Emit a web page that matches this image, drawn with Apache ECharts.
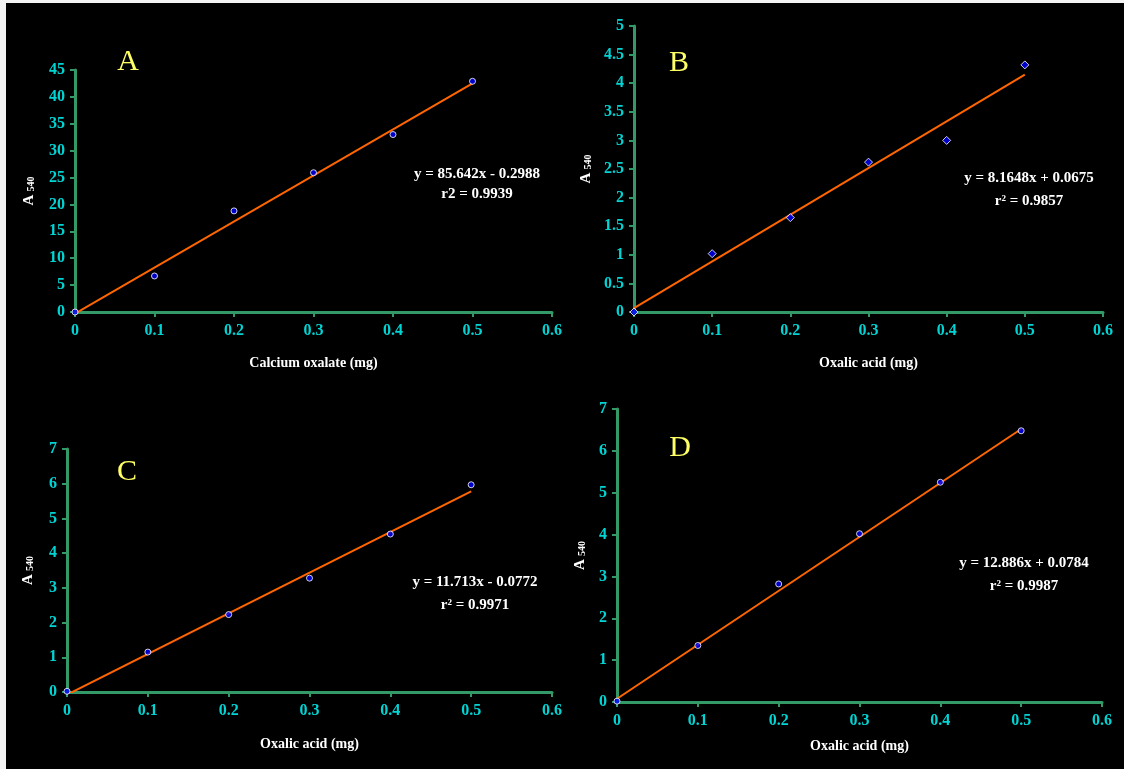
<!DOCTYPE html>
<html>
<head>
<meta charset="utf-8">
<script src="https://cdn.jsdelivr.net/npm/echarts@6/dist/echarts.min.js"></script>
<style>
  html, body { margin: 0; padding: 0; background: #000; }
  #chart { width: 1124px; height: 769px; }
</style>
</head>
<body>
<div id="chart"></div>
<script>
// Amount of standard (mg) on every panel's x axis
const doseMg = [0, 0.1, 0.2, 0.3, 0.4, 0.5];

// Absorbance at 540 nm for each panel
const absA = [0, 6.7, 18.8, 25.9, 33.0, 42.9];
const absB = [0, 1.02, 1.65, 2.62, 3.0, 4.32];
const absC = [0.02, 1.15, 2.23, 3.28, 4.55, 5.97];
const absD = [0.02, 1.35, 2.82, 4.02, 5.25, 6.48];

// Linear fits printed on each panel
const fitSlope = [85.642, 8.1648, 11.713, 12.886];
const fitIntercept = [-0.2988, 0.0675, -0.0772, 0.0784];
const fitEquation = ['y = 85.642x - 0.2988', 'y = 8.1648x + 0.0675', 'y = 11.713x - 0.0772', 'y = 12.886x + 0.0784'];
const fitR2 = ['r2 = 0.9939', 'r\u00B2 = 0.9857', 'r\u00B2 = 0.9971', 'r\u00B2 = 0.9987'];

const panelLetters = ['A', 'B', 'C', 'D'];
const xTitles = ['Calcium oxalate (mg)', 'Oxalic acid (mg)', 'Oxalic acid (mg)', 'Oxalic acid (mg)'];
const yMax = [45, 5, 7, 7];
const yStep = [5, 0.5, 1, 1];

const SERIF = "'Liberation Serif', 'Times New Roman', serif";
const AXIS_GREEN = '#339966';
const TICK_CYAN = '#00d4d4';
const FIT_ORANGE = '#ff6600';

// Panel layout (pixels)
const grids = [
  { left: 75,  top: 70,  width: 477, height: 242 },
  { left: 634, top: 26,  width: 469, height: 286 },
  { left: 67,  top: 449, width: 485, height: 243 },
  { left: 617, top: 409, width: 485, height: 293 }
];
const yNameGap = [38, 40, 31, 29];
const xNameGap = [44, 44, 45, 37];
const letterPos = [[128, 62], [679, 63], [127, 472], [680, 448]];
const eqPos = [[477, 174, 194], [1029, 178, 201], [475, 582, 605], [1024, 563, 586]];
const markerShape = ['circle', 'diamond', 'circle', 'circle'];
const markerSize = [6, 8, 6, 6];

const absAll = [absA, absB, absC, absD];

const xAxes = [], yAxes = [], series = [], graphics = [];

grids.forEach((g, i) => {
  xAxes.push({
    gridIndex: i, type: 'value', min: 0, max: 0.6, interval: 0.1,
    name: xTitles[i], nameLocation: 'middle', nameGap: xNameGap[i],
    nameTextStyle: { color: '#ffffff', fontFamily: SERIF, fontWeight: 'bold', fontSize: 14 },
    axisLine: { show: true, onZero: false, lineStyle: { color: AXIS_GREEN, width: 3 } },
    axisTick: { show: true, length: 5, lineStyle: { color: AXIS_GREEN, width: 2 } },
    axisLabel: { color: TICK_CYAN, fontFamily: SERIF, fontWeight: 'bold', fontSize: 16, margin: 11 },
    splitLine: { show: false }
  });
  yAxes.push({
    gridIndex: i, type: 'value', min: 0, max: yMax[i], interval: yStep[i],
    name: '{a|A} {s|540}', nameLocation: 'middle', nameGap: yNameGap[i], nameRotate: 90,
    nameTextStyle: {
      color: '#ffffff', fontFamily: SERIF, fontWeight: 'bold',
      rich: {
        a: { fontSize: 15, fontWeight: 'bold', fontFamily: SERIF, color: '#ffffff' },
        s: { fontSize: 10, fontWeight: 'bold', fontFamily: SERIF, color: '#ffffff', padding: [4, 0, 0, 0] }
      }
    },
    axisLine: { show: true, onZero: false, lineStyle: { color: AXIS_GREEN, width: 3 } },
    axisTick: { show: true, length: 5, lineStyle: { color: AXIS_GREEN, width: 2 } },
    axisLabel: { color: TICK_CYAN, fontFamily: SERIF, fontWeight: 'bold', fontSize: 16, margin: 10 },
    splitLine: { show: false }
  });

  // Fitted line, drawn from the printed equation over the measured range
  const x0 = doseMg[0], x1 = doseMg[doseMg.length - 1];
  series.push({
    type: 'line', xAxisIndex: i, yAxisIndex: i, z: 2,
    data: [[x0, fitSlope[i] * x0 + fitIntercept[i]], [x1, fitSlope[i] * x1 + fitIntercept[i]]],
    showSymbol: false, symbol: 'none', silent: true,
    lineStyle: { color: FIT_ORANGE, width: 2 }
  });
  // Measured points
  series.push({
    type: 'scatter', xAxisIndex: i, yAxisIndex: i, z: 3,
    data: doseMg.map((x, k) => [x, absAll[i][k]]),
    symbol: markerShape[i], symbolSize: markerSize[i],
    itemStyle: { color: '#0000ff', borderColor: '#ffffff', borderWidth: 1 }
  });

  graphics.push({
    type: 'text', x: letterPos[i][0], y: letterPos[i][1],
    style: { text: panelLetters[i], fill: '#ffff66', font: '30px ' + SERIF, textAlign: 'center', textVerticalAlign: 'middle' }
  });
  graphics.push({
    type: 'text', x: eqPos[i][0], y: eqPos[i][1],
    style: { text: fitEquation[i], fill: '#ffffff', font: 'bold 15px ' + SERIF, textAlign: 'center', textVerticalAlign: 'middle' }
  });
  graphics.push({
    type: 'text', x: eqPos[i][0], y: eqPos[i][2],
    style: { text: fitR2[i], fill: '#ffffff', font: 'bold 15px ' + SERIF, textAlign: 'center', textVerticalAlign: 'middle' }
  });
});

// Light frame along the top and left edges
graphics.push({ type: 'rect', shape: { x: 0, y: 0, width: 1124, height: 3 }, style: { fill: '#f4f4f4' }, silent: true });
graphics.push({ type: 'rect', shape: { x: 0, y: 0, width: 6, height: 769 }, style: { fill: '#f4f4f4' }, silent: true });

const chart = echarts.init(document.getElementById('chart'), null, { renderer: 'canvas' });
chart.setOption({
  backgroundColor: '#000000',
  animation: false,
  grid: grids.map(g => Object.assign({ containLabel: false }, g)),
  xAxis: xAxes,
  yAxis: yAxes,
  series: series,
  graphic: graphics
});
</script>
</body>
</html>
